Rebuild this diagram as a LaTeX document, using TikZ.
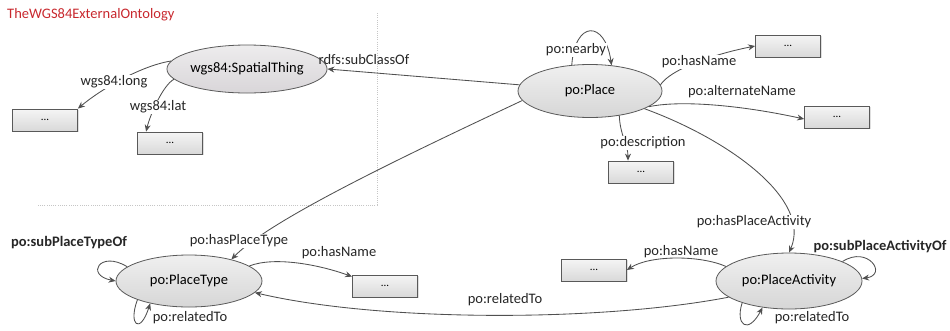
\documentclass[tikz,border=0pt]{standalone}
\usepackage{fontspec}
\setmainfont{Carlito}
\usetikzlibrary{arrows.meta,shapes.geometric,calc,shadows}
\definecolor{edgec}{HTML}{505050}
\definecolor{titlered}{HTML}{C8282E}
\begin{document}
\begin{tikzpicture}[x=1pt,y=-1pt,
  font=\fontsize{14.5}{16}\selectfont,
  cls/.style={ellipse,draw=black!65,line width=0.8pt,top color=gray!12,bottom color=gray!32,
    minimum width=146pt,minimum height=52pt,inner sep=0pt},
  extcls/.style={cls,top color=violet!6!gray!14,bottom color=violet!8!gray!30},
  valbox/.style={rectangle,draw=black!65,line width=0.8pt,top color=gray!8,bottom color=gray!30,
    minimum width=65pt,minimum height=22pt,inner sep=0pt,font=\fontsize{11}{12}\selectfont,
    drop shadow={opacity=0.25,shadow xshift=1.2pt,shadow yshift=-1.2pt}},
  arr/.style={draw=edgec,line width=0.85pt,-{Stealth[length=7pt,width=6pt]}},
  lbl/.style={inner sep=1pt,text=black!85},
  wlbl/.style={lbl,fill=white},
  blbl/.style={lbl,font=\fontsize{14.5}{16}\selectfont\bfseries},
  border/.style={draw=gray!45,line width=0.7pt,dash pattern=on 1pt off 1.2pt}
]
\useasboundingbox (0,0) rectangle (950,330);

% title and ontology border
\node[anchor=west,text=titlered,inner sep=0pt] (title) at (7,15) {TheWGS84ExternalOntology};
\coordinate (bt) at (377,13);
\coordinate (bc) at (377,205);
\coordinate (bl) at (38,205);
\draw[border] (bt) -- (bc) -- (bl);

% classes
\node[extcls,minimum width=141pt,minimum height=48pt] (st) at (247,69) {wgs84:SpatialThing};
\node[cls,minimum width=144pt,minimum height=53pt] (place) at (590,91) {po:Place};
\node[cls] (pt) at (189,281) {po:PlaceType};
\node[cls,minimum height=56pt] (pa) at (789,281) {po:PlaceActivity};

% value boxes
\node[valbox] (b1) at (45,120) {...};
\node[valbox] (b2) at (170,143) {...};
\node[valbox] (b3) at (788,46) {...};
\node[valbox] (b4) at (837,117) {...};
\node[valbox] (b5) at (641,172) {...};
\node[valbox] (b6) at (385,286) {...};
\node[valbox] (b7) at (594,270) {...};

% edges
\draw[arr] (place.175) -- (st.east);
\draw[arr] (st.174) .. controls (140,66) and (100,90) .. (b1.north east);
\draw[arr] (st.188) .. controls (163,85) and (150,115) .. ($(b2.north west)+(9,0)$);
\draw[arr] (place.125) .. controls (575,20) and (605,20) .. (place.50);
\draw[arr] (place.5) .. controls (670,70) and (710,55) .. (b3.west);
\draw[arr] (place.-15) .. controls (680,100) and (740,105) .. ($(b4.west)+(0,2)$);
\draw[arr] (place.-40) .. controls (620,135) and (628,145) .. ($(b5.north)+(-13,0)$);
\draw[arr] (place.-18) .. controls (730,140) and (812,200) .. (pa.north);
\draw[arr] (place.188) .. controls (400,158) and (270,220) .. (pt.27);
\draw[arr] (pt.14) .. controls (275,256) and (320,265) .. ($(b6.north west)+(0,2)$);
\draw[arr] (pt.167) .. controls (100,250) and (85,275) .. (pt.180);
\draw[arr] (pt.200) .. controls (128,325) and (140,335) .. (pt.210);
\draw[arr] (pa.167) .. controls (700,255) and (650,255) .. (b7.east);
\draw[arr] (pa.20) .. controls (868,245) and (888,275) .. (pa.2);
\draw[arr] (pa.205) .. controls (735,325) and (748,335) .. (pa.225);
\draw[arr] (pa.195) .. controls (600,322) and (380,322) .. (pt.350);

% edge labels
\node[wlbl] (l1) at (114,82) {wgs84:long};
\node[wlbl] (l2) at (158,107) {wgs84:lat};
\node[lbl] (l3) at (364,60) {rdfs:subClassOf};
\node[wlbl] (l4) at (576,50) {po:nearby};
\node[wlbl] (l5) at (699,62) {po:hasName};
\node[lbl] (l6) at (742,92) {po:alternateName};
\node[wlbl] (l7) at (643,143) {po:description};
\node[wlbl] (l8) at (754,222) {po:hasPlaceActivity};
\node[wlbl] (l9) at (239,241) {po:hasPlaceType};
\node[lbl] (l10) at (339,253) {po:hasName};
\node[blbl] (l11) at (69,243) {po:subPlaceTypeOf};
\node[lbl] (l12) at (190,318) {po:relatedTo};
\node[lbl] (l13) at (505,300) {po:relatedTo};
\node[lbl] (l14) at (681,252) {po:hasName};
\node[blbl] (l15) at (880,247) {po:subPlaceActivityOf};
\node[lbl] (l16) at (812,318) {po:relatedTo};
\end{tikzpicture}
\end{document}
